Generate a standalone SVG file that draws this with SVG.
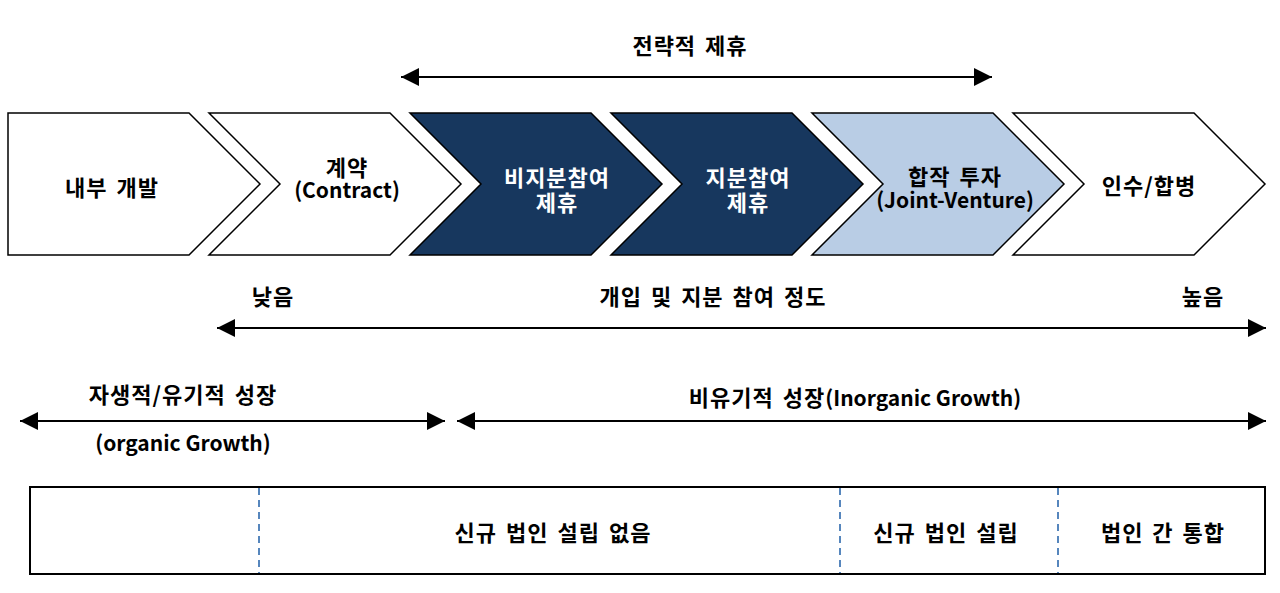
<svg xmlns="http://www.w3.org/2000/svg" width="1280" height="593" viewBox="0 0 1280 593">
<style>
.t{font-family:"Noto Sans CJK KR","Malgun Gothic",sans-serif;font-weight:bold;font-size:22px;letter-spacing:1px;word-spacing:3px;text-anchor:middle;fill:#000}
.l{font-size:21px;letter-spacing:0;word-spacing:0}
.w{fill:#fff}
.ch{stroke:#000;stroke-width:1.5;stroke-linejoin:miter}
.ln{stroke:#000;stroke-width:2;fill:none}
.dash{stroke:#1f5fa8;stroke-width:1.5;stroke-dasharray:7 5}
</style>
<defs>
<marker id="ah" viewBox="0 0 18 18" refX="18" refY="9" markerWidth="18" markerHeight="18" markerUnits="userSpaceOnUse" orient="auto-start-reverse">
<path d="M0,0 L18,9 L0,18 z" fill="#000"/>
</marker>
</defs>
<rect width="1280" height="593" fill="#fff"/>

<g id="n-internal">
<polygon class="ch" fill="#fff" points="8,113 189,113 260,184 189,255 8,255"/>
<text class="t" x="112" y="196">내부 개발</text>
</g>
<g id="n-contract">
<polygon class="ch" fill="#fff" points="209,113 390,113 461,184 390,255 209,255 280,184"/>
<text class="t"><tspan x="347" y="176">계약</tspan><tspan class="l" x="347" y="198">(Contract)</tspan></text>
</g>
<g id="n-nonequity">
<polygon class="ch" fill="#17375e" points="410,113 591,113 662,184 591,255 410,255 481,184"/>
<text class="t w"><tspan x="557" y="186">비지분참여</tspan><tspan x="557" y="211">제휴</tspan></text>
</g>
<g id="n-equity">
<polygon class="ch" fill="#17375e" points="611,113 792,113 863,184 792,255 611,255 682,184"/>
<text class="t w"><tspan x="748" y="186">지분참여</tspan><tspan x="748" y="211">제휴</tspan></text>
</g>
<g id="n-jv">
<polygon class="ch" fill="#b9cde5" points="812,113 993,113 1064,184 993,255 812,255 883,184"/>
<text class="t"><tspan x="955" y="185">합작 투자</tspan><tspan class="l" x="955" y="208">(Joint-Venture)</tspan></text>
</g>
<g id="n-ma">
<polygon class="ch" fill="#fff" points="1013,113 1194,113 1265,184 1194,255 1013,255 1084,184"/>
<text class="t" x="1149" y="194">인수/합병</text>
</g>

<g id="connectors">
<path class="ln" d="M401,77 H992" marker-start="url(#ah)" marker-end="url(#ah)"/>
<path class="ln" d="M217,328 H1266" marker-start="url(#ah)" marker-end="url(#ah)"/>
<path class="ln" d="M20,421 H445" marker-start="url(#ah)" marker-end="url(#ah)"/>
<path class="ln" d="M457,421 H1266" marker-start="url(#ah)" marker-end="url(#ah)"/>
</g>

<g id="labels">
<text class="t" x="690" y="54">전략적 제휴</text>
<text class="t" x="273" y="305">낮음</text>
<text class="t" x="713" y="305">개입 및 지분 참여 정도</text>
<text class="t" x="1203" y="305">높음</text>
<text class="t" x="183" y="403">자생적/유기적 성장</text>
<text class="t l" x="183" y="451">(organic Growth)</text>
<text class="t" x="855" y="406">비유기적 성장<tspan class="l">(Inorganic Growth)</tspan></text>
</g>

<g id="n-table">
<rect x="30" y="487" width="1235" height="87" fill="#fff" stroke="#000" stroke-width="2"/>
<line class="dash" x1="259" y1="488" x2="259" y2="573"/>
<line class="dash" x1="840" y1="488" x2="840" y2="573"/>
<line class="dash" x1="1058" y1="488" x2="1058" y2="573"/>
<text class="t" x="553" y="541">신규 법인 설립 없음</text>
<text class="t" x="946" y="541">신규 법인 설립</text>
<text class="t" x="1163" y="541">법인 간 통합</text>
</g>
</svg>
